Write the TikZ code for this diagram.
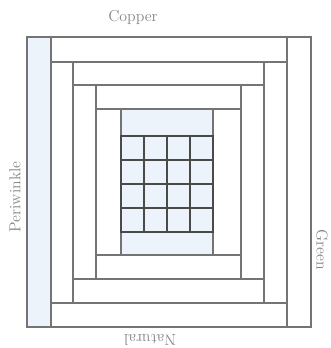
\documentclass[tikz,border=0pt]{standalone}
\usepackage{tikz}

\definecolor{seam}{HTML}{747474}
\definecolor{gridline}{HTML}{4A4A4A}
\definecolor{paleblue}{HTML}{EDF3FA}
\definecolor{labelgray}{HTML}{858585}

\begin{document}
\begin{tikzpicture}[
        x=0.03cm, y=-0.03cm,
        piece/.style={draw=seam, line width=1.1pt, fill=white},
        bluepiece/.style={draw=seam, line width=1.1pt, fill=paleblue},
        cell/.style={draw=gridline, line width=1.2pt, fill=paleblue},
        label/.style={text=labelgray, font=\fontsize{13.5}{15}\selectfont, inner sep=0pt}
    ]

    \useasboundingbox (0,0) rectangle (330,348);

    % outer round
    \draw[bluepiece] (27,37) rectangle (51,327);
    \draw[piece] (287,37) rectangle (311,327);
    \draw[piece] (51,37) rectangle (287,62);
    \draw[piece] (51,303) rectangle (287,327);

    % second round
    \draw[piece] (51,62) rectangle (73,303);
    \draw[piece] (264,62) rectangle (287,303);
    \draw[piece] (73,62) rectangle (264,85);
    \draw[piece] (73,279) rectangle (264,303);

    % third round
    \draw[piece] (73,85) rectangle (96,279);
    \draw[piece] (241,85) rectangle (264,279);
    \draw[piece] (96,85) rectangle (241,109);
    \draw[piece] (96,255) rectangle (241,279);

    % fourth round
    \draw[piece] (96,109) rectangle (121,255);
    \draw[piece] (213,109) rectangle (241,255);
    \draw[bluepiece] (121,109) rectangle (213,136);
    \draw[bluepiece] (121,232) rectangle (213,255);

    % centre grid
    \foreach \i in {0,...,3}
        \foreach \j in {0,...,3}
            \draw[cell] ({121+23*\i},{136+24*\j}) rectangle ({144+23*\i},{160+24*\j});

    \node[label] (copper) at (133,17) {Copper};
    \node[label, rotate=90] (periwinkle) at (15,197) {Periwinkle};
    \node[label, rotate=-90] (green) at (322,250) {Green};
    \node[label, rotate=180] (natural) at (150,340) {Natural};
\end{tikzpicture}
\end{document}
